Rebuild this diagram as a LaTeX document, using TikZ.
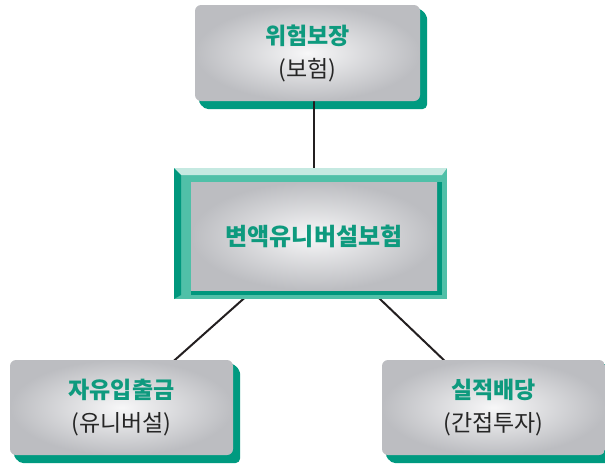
\documentclass[tikz,border=0pt]{standalone}
\usepackage{fontspec}
\newfontfamily\kr{Noto Sans CJK KR}
\usetikzlibrary{backgrounds,calc}
\definecolor{tdark}{HTML}{00977D}
\definecolor{tgreen}{HTML}{0E9A7E}
\definecolor{tmed}{HTML}{50C0A8}
\definecolor{tlight}{HTML}{C5E9E1}
\definecolor{tshadow}{HTML}{009A80}
\definecolor{gin}{HTML}{F7F7F8}
\definecolor{gout}{HTML}{BCBDC1}
\definecolor{linec}{HTML}{231F20}
\begin{document}
\begin{tikzpicture}[x=1pt,y=-1pt,
  graybox/.style={rectangle, rounded corners=6pt, shading=radial, inner color=gin, outer color=gout,
    minimum width=224pt, minimum height=96pt, align=center, inner sep=0pt,
    font=\kr\fontsize{23}{33}\selectfont, text=black!85},
  shadowpoly/.style={fill=tshadow, rounded corners=5pt},
  conn/.style={draw=linec, line width=2pt}]
\useasboundingbox (0,0) rectangle (605,464);

% center frame
\fill[tmed] (174,168) rectangle (447,299);
\fill[tlight] (174,168) -- (447,168) -- (442,175) -- (181,175) -- cycle;
\fill[tdark] (174,168) -- (181,175) -- (181,295) -- (174,299) -- cycle;
\fill[tdark] (191,182) rectangle (442,295);
\node[rectangle, shading=radial, inner color=gin, outer color=gout, minimum width=246pt, minimum height=108pt,
  inner sep=0pt, font=\kr\bfseries\fontsize{24}{28}\selectfont, text=tgreen] (mid) at (314,236) {변액유니버설보험};

\node[graybox, minimum width=225pt] (top) at (307.5,53) {\textcolor{tgreen}{\bfseries 위험보장}\\(보험)};
\node[graybox, minimum width=223pt, minimum height=95pt] (bl) at (121.5,407.5) {\textcolor{tgreen}{\bfseries 자유입출금}\\(유니버설)};
\node[graybox, minimum width=223pt, minimum height=95pt] (br) at (493.5,407.5) {\textcolor{tgreen}{\bfseries 실적배당}\\(간접투자)};

\begin{scope}[on background layer]
  \foreach \b in {top,bl,br}{
    \fill[shadowpoly] ($(\b.south west)+(2,-3)$) -- ($(\b.south west)+(9,8)$) -- ($(\b.south east)+(7,8)$)
      -- ($(\b.north east)+(7,10)$) -- ($(\b.north east)+(-3,2)$) -- cycle;
  }
  \path[conn] (mid.center) -- (mid.center |- top.south);
  \path[conn] (mid.center) -- (bl.center);
  \path[conn] (mid.center) -- (br.center);
\end{scope}
\end{tikzpicture}
\end{document}
